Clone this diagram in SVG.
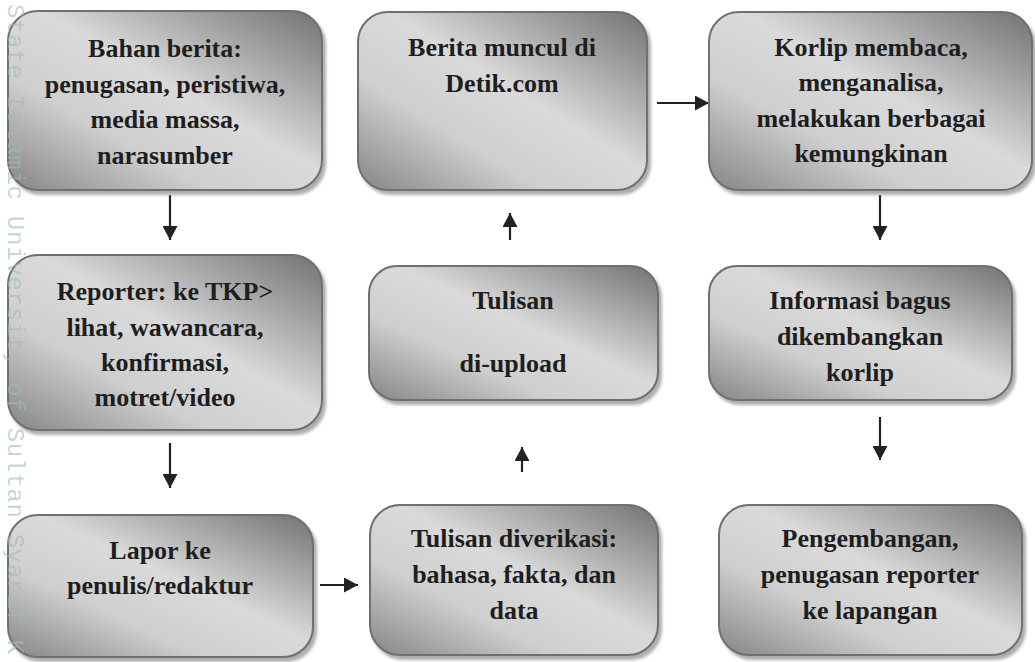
<svg xmlns="http://www.w3.org/2000/svg" width="1035" height="662" viewBox="0 0 1035 662">
<style>
.box{fill:url(#g);stroke:#6f6f6f;stroke-width:2;filter:url(#sh)}
.t{font-family:"Liberation Serif","Times New Roman",serif;font-weight:bold;font-size:26px;fill:#1e1e1e;text-anchor:middle}
.c{stroke:#222;stroke-width:2.2;fill:none;marker-end:url(#ah)}
.wm{font-family:"Liberation Mono","Courier New",monospace;font-size:24px;fill:#9fbdb4;opacity:0.6}
</style>
<defs>
<linearGradient id="g" x1="1" y1="0" x2="0" y2="1">
<stop offset="0" stop-color="#727272"/>
<stop offset="0.45" stop-color="#dadada"/>
<stop offset="0.68" stop-color="#cfcfcf"/>
<stop offset="1" stop-color="#858585"/>
</linearGradient>
<filter id="sh" x="-5%" y="-5%" width="115%" height="120%">
<feDropShadow dx="3" dy="4" stdDeviation="1.5" flood-color="#9a9a9a" flood-opacity="0.8"/>
</filter>
<marker id="ah" viewBox="0 0 14 15" refX="14" refY="7.5" markerWidth="14" markerHeight="15" markerUnits="userSpaceOnUse" orient="auto">
<path d="M0,0 L14,7.5 L0,15 Z" fill="#222"/>
</marker>
</defs>
<rect width="1035" height="662" fill="#ffffff"/>

<g id="connectors">
<line class="c" x1="170" y1="195" x2="170" y2="240"/>
<line class="c" x1="170" y1="443" x2="170" y2="488"/>
<line class="c" x1="320" y1="585" x2="358" y2="585"/>
<line class="c" x1="522" y1="472" x2="522" y2="447"/>
<line class="c" x1="510" y1="240" x2="510" y2="213"/>
<line class="c" x1="657" y1="103" x2="709" y2="103"/>
<line class="c" x1="880" y1="195" x2="880" y2="240"/>
<line class="c" x1="880" y1="417" x2="880" y2="460"/>
</g>

<g id="n1"><rect class="box" x="8" y="11" width="314" height="179" rx="30"/>
<text class="t" x="165" y="57">Bahan berita:</text>
<text class="t" x="165" y="93">penugasan, peristiwa,</text>
<text class="t" x="165" y="128">media massa,</text>
<text class="t" x="165" y="164">narasumber</text></g>

<g id="n2"><rect class="box" x="358" y="12" width="289" height="178" rx="30"/>
<text class="t" x="502" y="56">Berita muncul di</text>
<text class="t" x="502" y="92">Detik.com</text></g>

<g id="n3"><rect class="box" x="709" y="12" width="323" height="178" rx="30"/>
<text class="t" x="871" y="56">Korlip membaca,</text>
<text class="t" x="871" y="91">menganalisa,</text>
<text class="t" x="871" y="127">melakukan berbagai</text>
<text class="t" x="871" y="162">kemungkinan</text></g>

<g id="n4"><rect class="box" x="8" y="255" width="314" height="175" rx="30"/>
<text class="t" x="165" y="300">Reporter: ke TKP&gt;</text>
<text class="t" x="165" y="336">lihat, wawancara,</text>
<text class="t" x="165" y="371">konfirmasi,</text>
<text class="t" x="165" y="406">motret/video</text></g>

<g id="n5"><rect class="box" x="369" y="266" width="289" height="134" rx="28"/>
<text class="t" x="513" y="309">Tulisan</text>
<text class="t" x="513" y="372">di-upload</text></g>

<g id="n6"><rect class="box" x="709" y="266" width="303" height="134" rx="28"/>
<text class="t" x="860" y="309">Informasi bagus</text>
<text class="t" x="860" y="345">dikembangkan</text>
<text class="t" x="860" y="381">korlip</text></g>

<g id="n7"><rect class="box" x="8" y="515" width="305" height="142" rx="30"/>
<text class="t" x="160" y="559">Lapor ke</text>
<text class="t" x="160" y="594">penulis/redaktur</text></g>

<g id="n8"><rect class="box" x="370" y="505" width="288" height="150" rx="30"/>
<text class="t" x="514" y="547">Tulisan diverikasi:</text>
<text class="t" x="514" y="583">bahasa, fakta, dan</text>
<text class="t" x="514" y="619">data</text></g>

<g id="n9"><rect class="box" x="719" y="505" width="303" height="150" rx="30"/>
<text class="t" x="870" y="547">Pengembangan,</text>
<text class="t" x="870" y="583">penugasan reporter</text>
<text class="t" x="870" y="619">ke lapangan</text></g>

<text class="wm" transform="translate(8,4) rotate(90)" textLength="650" lengthAdjust="spacing">State Islamic University of Sultan Syarif K</text>
</svg>
